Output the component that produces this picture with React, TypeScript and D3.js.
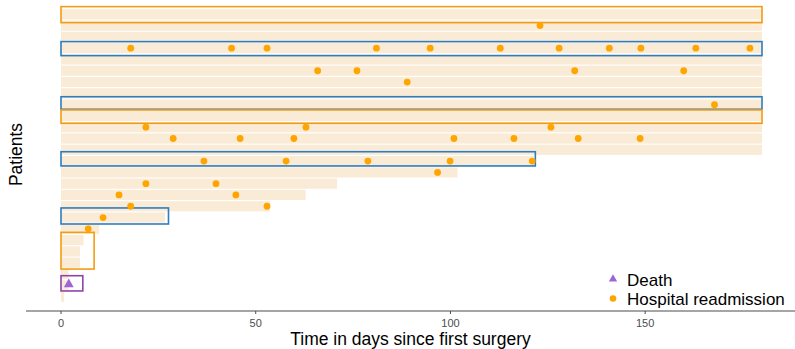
import React from "react";
import * as d3 from "d3";

// rows listed top to bottom; patient id = 26 at the top, 1 at the bottom
const patientIds = d3.range(26, 0, -1);
const followUpDays = [
  180, 180, 180, 180, 180, 180, 180, 180, 180, 180, 180, 180, 180,
  121.5, 101.8, 70.9, 62.8, 53.7, 26.7, 9.8, 5.8, 4.9, 4.9, 1.9, 2.0, 0.8,
];
const readmissionDays = [
  [],
  [123.0],
  [],
  [17.9, 43.8, 52.9, 81.0, 94.8, 112.8, 127.9, 140.8, 148.9, 163.0, 176.9],
  [],
  [65.9, 76.0, 131.9, 159.9],
  [88.9],
  [],
  [167.8],
  [],
  [21.8, 62.9, 125.8],
  [28.8, 46.0, 59.8, 100.9, 116.3, 132.8, 148.7],
  [],
  [36.7, 57.8, 78.8, 99.9, 121.0],
  [96.7],
  [21.8, 39.8],
  [14.9, 44.9],
  [17.9, 52.9],
  [10.8],
  [7.0],
  [], [], [], [], [], [],
];
const deathPatient = [2];
const deathDay = [2.0];

// highlighted groups of patients (in patient-id / day units)
const boxGroup = ["orange", "blue", "blue", "orange", "blue", "blue", "orange", "purple"];
const boxYmin = [25.26, 22.34, 17.59, 16.35, 12.57, 7.43, 3.44, 1.5];
const boxYmax = [26.68, 23.58, 18.7, 17.53, 13.83, 8.85, 6.69, 2.85];
const boxXmax = [180, 180, 180, 180, 121.8, 27.6, 8.5, 5.6];

const xTicks = [0, 50, 100, 150];
const legendLabels = ["Death", "Hospital readmission"];

const groupColor: Record<string, string> = {
  orange: "#F39C12",
  blue: "#2E7EBF",
  purple: "#8E44AD",
};

const W = 795;
const H = 349;
const font = "'Liberation Sans', Arial, sans-serif";

export default function App() {
  const x = d3.scaleLinear().domain([0, 180]).range([61, 762]);
  const y = d3.scaleLinear().domain([1, 26]).range([296.6, 14.3]);
  const step = Math.abs(y(1) - y(2));
  const bandH = step - 1.1;
  const axisY = 311;

  const tri = d3.symbol().type(d3.symbolTriangle).size(42)()!;
  const triLegend = d3.symbol().type(d3.symbolTriangle).size(30)()!;

  return (
    <svg
      width={W}
      height={H}
      style={{ position: "absolute", left: 0, top: 0, background: "#fff" }}
      fontFamily={font}
    >
      {/* follow-up bands */}
      <g fill="#FAEBD7">
        {patientIds.map((p, i) => (
          <rect
            key={p}
            x={x(0)}
            y={y(p) - bandH / 2}
            width={x(followUpDays[i]) - x(0)}
            height={bandH}
          />
        ))}
      </g>
      {/* group boxes */}
      <g fill="none" strokeWidth={1.6}>
        {boxGroup.map((g, i) => (
          <rect
            key={i}
            x={x(0)}
            y={y(boxYmax[i])}
            width={x(boxXmax[i]) - x(0)}
            height={y(boxYmin[i]) - y(boxYmax[i])}
            stroke={groupColor[g]}
          />
        ))}
      </g>
      {/* readmissions */}
      <g fill="#FFA500">
        {patientIds.map((p, i) =>
          readmissionDays[i].map((d, j) => (
            <circle key={`${p}-${j}`} cx={x(d)} cy={y(p)} r={3.4} />
          ))
        )}
      </g>
      {/* deaths */}
      <g fill="#A064D9">
        {deathPatient.map((p, i) => (
          <path key={p} d={tri} transform={`translate(${x(deathDay[i])},${y(p) - 1})`} />
        ))}
      </g>

      {/* x axis */}
      <line x1={x(-9)} x2={x(189)} y1={axisY} y2={axisY} stroke="#4D4D4D" strokeWidth={1.1} />
      {xTicks.map((t) => (
        <g key={t} transform={`translate(${x(t)},0)`}>
          <line y1={axisY} y2={axisY + 3} stroke="#4D4D4D" strokeWidth={1} />
          <text y={axisY + 16} textAnchor="middle" fontSize={11} fill="#4D4D4D">
            {t}
          </text>
        </g>
      ))}
      <text x={(x(-9) + W) / 2} y={345} textAnchor="middle" fontSize={17.5} fill="#000">
        Time in days since first surgery
      </text>
      <text
        transform={`translate(21.5,${154.5}) rotate(-90)`}
        textAnchor="middle"
        fontSize={17.5}
        fill="#000"
      >
        Patients
      </text>

      {/* legend */}
      <g transform="translate(613,0)">
        <path d={triLegend} transform="translate(0,279)" fill="#A064D9" />
        <circle cx={0} cy={298.5} r={3.3} fill="#FFA500" />
        <text x={14} y={285.5} fontSize={17} fill="#000">
          {legendLabels[0]}
        </text>
        <text x={14} y={305} fontSize={17} fill="#000">
          {legendLabels[1]}
        </text>
      </g>
    </svg>
  );
}
